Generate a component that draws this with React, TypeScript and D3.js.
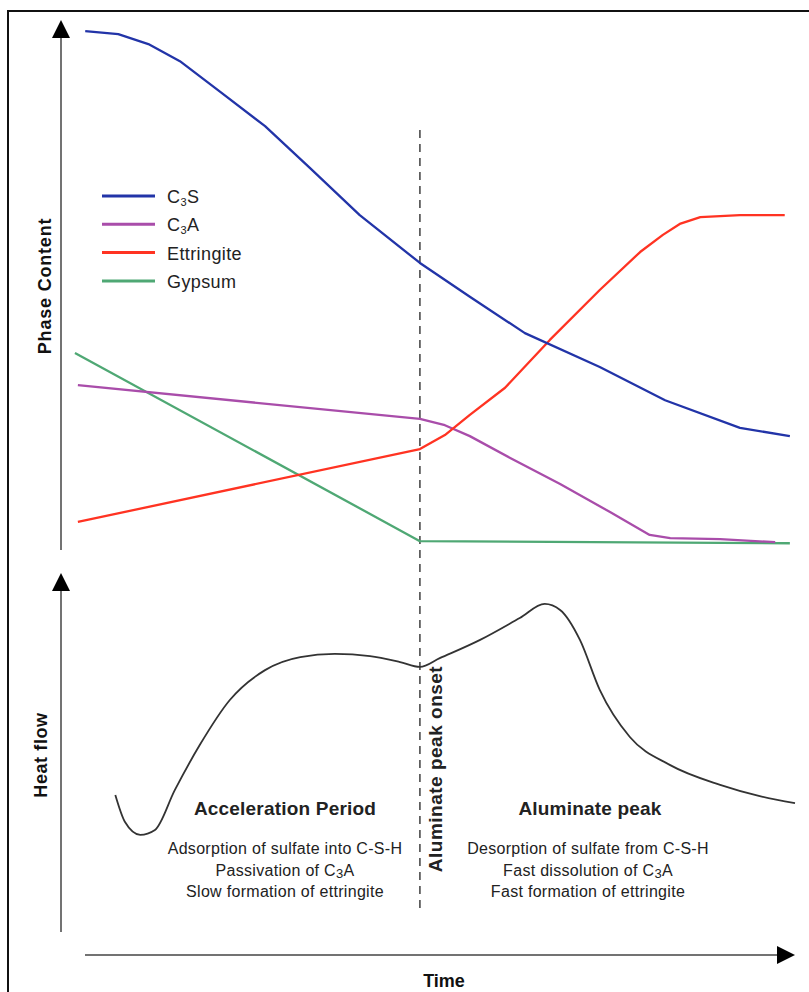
import React, { useEffect, useRef } from 'react';
import * as d3 from 'd3';

// time runs 0..100 (arbitrary units), phase content and heat flow 0..100 too
const c3sTime = [3.3, 7.8, 11.9, 16.2, 21.7, 27.8, 33.9, 40.7, 48.9, 55.7, 63.2, 73.4, 82.3, 92.5, 99.3];
const c3sVal = [99.8, 99.2, 97.3, 94.0, 88.1, 81.5, 73.5, 64.4, 55.2, 48.7, 41.7, 35.2, 28.8, 23.5, 21.9];

const c3aTime = [2.3, 48.9, 52.3, 55.7, 61.2, 68.0, 74.8, 80.2, 83.0, 89.8, 97.3];
const c3aVal = [31.7, 25.2, 24.0, 21.9, 17.7, 12.7, 7.3, 2.9, 2.3, 2.1, 1.5];

const ettTime = [2.3, 48.9, 52.3, 55.7, 60.5, 66.6, 73.4, 78.9, 82.0, 84.3, 87.1, 92.5, 98.6];
const ettVal = [5.4, 19.4, 22.1, 26.0, 31.2, 40.4, 50.0, 57.3, 60.6, 62.7, 64.0, 64.4, 64.4];

const gypTime = [1.9, 48.9, 99.3];
const gypVal = [37.9, 1.7, 1.3];

const heatTime = [7.4, 8.7, 10.8, 12.8, 15.5, 18.9, 23.0, 27.8, 32.6, 37.3, 42.1, 46.2, 48.9, 51.6, 57.1, 62.5, 65.9, 68.0, 70.7, 73.4, 77.5, 83.0, 89.8, 95.2, 100];
const heatVal = [38.9, 31.3, 27.6, 29.0, 40.3, 53.1, 65.9, 74.4, 78.1, 79.0, 78.4, 76.7, 75.3, 77.8, 83.0, 89.2, 93.2, 91.5, 83.0, 68.8, 55.4, 47.4, 41.8, 38.6, 36.6];

const onsetTime = 48.9;

const seriesNames = ['C3S', 'C3A', 'Ettringite', 'Gypsum'];
const seriesColors = ['#2234a8', '#a94daa', '#ff3322', '#4fa874'];

const leftNotes = ['Adsorption of sulfate into C-S-H', 'Passivation of C3A', 'Slow formation of ettringite'];
const rightNotes = ['Desorption of sulfate from C-S-H', 'Fast dissolution of C3A', 'Fast formation of ettringite'];

function App() {
  const ref = useRef<SVGSVGElement>(null);

  useEffect(() => {
    const svg = d3.select(ref.current);
    svg.selectAll('*').remove();
    const font = 'Liberation Sans, Arial, sans-serif';

    const x = d3.scaleLinear().domain([0, 100]).range([61, 795]);
    const yTop = d3.scaleLinear().domain([0, 100]).range([550, 30]);
    const yBot = d3.scaleLinear().domain([0, 100]).range([932, 580]);

    // frame
    svg.append('path').attr('d', 'M8,992 L8,11 L809,11')
      .attr('fill', 'none').attr('stroke', '#111').attr('stroke-width', 2);

    // axes with arrows
    const axisColor = '#444';
    svg.append('line').attr('x1', 61).attr('x2', 61).attr('y1', 36).attr('y2', 550)
      .attr('stroke', axisColor).attr('stroke-width', 1.5);
    svg.append('path').attr('d', 'M61,20 L70,38 L52,38 Z').attr('fill', '#000');
    svg.append('line').attr('x1', 61).attr('x2', 61).attr('y1', 590).attr('y2', 932)
      .attr('stroke', axisColor).attr('stroke-width', 1.5);
    svg.append('path').attr('d', 'M61,573 L70,591 L52,591 Z').attr('fill', '#000');
    svg.append('line').attr('x1', 85).attr('x2', 780).attr('y1', 955).attr('y2', 955)
      .attr('stroke', axisColor).attr('stroke-width', 1.5);
    svg.append('path').attr('d', 'M795,955 L777,946 L777,964 Z').attr('fill', '#000');

    // axis titles
    svg.append('text').attr('transform', 'translate(51,286) rotate(-90)')
      .attr('text-anchor', 'middle').attr('font-family', font).attr('font-weight', 'bold')
      .attr('font-size', 18).attr('letter-spacing', 0.8).attr('fill', '#111').text('Phase Content');
    svg.append('text').attr('transform', 'translate(47,755) rotate(-90)')
      .attr('text-anchor', 'middle').attr('font-family', font).attr('font-weight', 'bold')
      .attr('font-size', 18).attr('letter-spacing', 0.6).attr('fill', '#111').text('Heat flow');
    svg.append('text').attr('x', 444).attr('y', 987)
      .attr('text-anchor', 'middle').attr('font-family', font)
      .attr('font-weight', 'bold').attr('font-size', 18).attr('fill', '#111').text('Time');

    // dashed onset line
    svg.append('line').attr('x1', x(onsetTime)).attr('x2', x(onsetTime)).attr('y1', 130).attr('y2', 910)
      .attr('stroke', '#222').attr('stroke-width', 1.3).attr('stroke-dasharray', '8,6');

    // phase lines
    const line = d3.line<number[]>().x(d => x(d[0])).y(d => yTop(d[1]));
    const series = [
      d3.zip(c3sTime, c3sVal),
      d3.zip(c3aTime, c3aVal),
      d3.zip(ettTime, ettVal),
      d3.zip(gypTime, gypVal),
    ];
    // draw order: gypsum, c3a, ettringite, c3s
    [3, 1, 2, 0].forEach(i => {
      svg.append('path').attr('d', line(series[i]))
        .attr('fill', 'none').attr('stroke', seriesColors[i]).attr('stroke-width', 2.3)
        .attr('stroke-linejoin', 'round');
    });

    // legend
    const legend = svg.append('g').attr('transform', 'translate(102,196)');
    seriesNames.forEach((name, i) => {
      const g = legend.append('g').attr('transform', `translate(0,${i * 28.3})`);
      g.append('line').attr('x1', 0).attr('x2', 53).attr('y1', 0).attr('y2', 0)
        .attr('stroke', seriesColors[i]).attr('stroke-width', 3);
      const t = g.append('text').attr('x', 65).attr('y', 7).attr('font-family', font)
        .attr('font-size', 18).attr('letter-spacing', 0.4).attr('fill', '#222');
      if (name.startsWith('C3')) {
        t.append('tspan').text('C');
        t.append('tspan').attr('font-size', 11).attr('dy', 3).text('3');
        t.append('tspan').attr('dy', -3).text(name.slice(2));
      } else {
        t.text(name);
      }
    });

    // heat flow curve
    const heatLine = d3.line<number[]>().x(d => x(d[0])).y(d => yBot(d[1])).curve(d3.curveMonotoneX);
    svg.append('path').attr('d', heatLine(d3.zip(heatTime, heatVal)))
      .attr('fill', 'none').attr('stroke', '#333').attr('stroke-width', 1.8);

    // annotations
    svg.append('text').attr('transform', 'translate(442,769) rotate(-90)')
      .attr('text-anchor', 'middle').attr('font-family', font).attr('font-weight', 'bold')
      .attr('font-size', 19).attr('letter-spacing', 0.5).attr('fill', '#222').text('Aluminate peak onset');

    const heading = (cx: number, label: string) =>
      svg.append('text').attr('x', cx).attr('y', 815).attr('text-anchor', 'middle')
        .attr('font-family', font).attr('font-weight', 'bold').attr('font-size', 19)
        .attr('letter-spacing', 0.2).attr('fill', '#222').text(label);
    heading(285, 'Acceleration Period');
    heading(590, 'Aluminate peak');

    const notes = (cx: number, lines: string[]) => {
      lines.forEach((s, i) => {
        const t = svg.append('text').attr('x', cx).attr('y', 854 + i * 21.5).attr('text-anchor', 'middle')
          .attr('font-family', font).attr('font-size', 16).attr('letter-spacing', 0.3).attr('fill', '#222');
        const k = s.indexOf('C3A');
        if (k >= 0) {
          t.append('tspan').text(s.slice(0, k + 1));
          t.append('tspan').attr('font-size', 13).attr('dy', 2).text('3');
          t.append('tspan').attr('dy', -2).text('A');
        } else {
          t.text(s);
        }
      });
    };
    notes(285, leftNotes);
    notes(588, rightNotes);
  }, []);

  return (
    <svg ref={ref} width={809} height={992}
      style={{ position: 'absolute', left: 0, top: 0, background: '#fff' }} />
  );
}

export default App;
